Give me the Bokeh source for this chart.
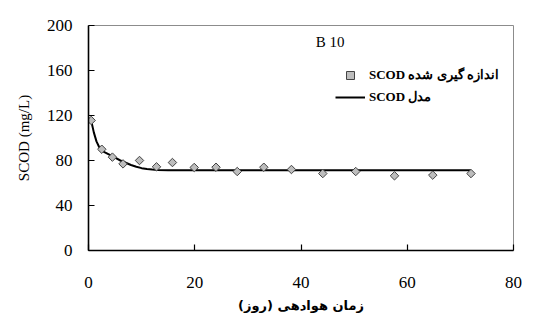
import math
from bokeh.plotting import figure
from bokeh.models import Label, Legend, LegendItem, FixedTicker, Range1d
from bokeh.embed import file_html
from bokeh.resources import INLINE

# ---- data ----
days_meas = [0.5, 2.5, 4.5, 6.5, 9.6, 12.8, 15.8, 19.9, 24, 28, 33, 38.2, 44.1, 50.3, 57.6, 64.8, 72]
scod_meas = [115.6, 90, 83, 77, 80, 74.4, 78.2, 73.8, 74, 70.2, 74, 72, 68.4, 70.2, 66.4, 67, 68.4]

days_model = [0.5, 1, 1.5, 2, 2.5, 3, 4, 5, 6, 7, 8, 9, 10, 11, 12, 13, 15, 20, 72]
scod_model = [115.6, 105, 97, 92, 89, 87.5, 85, 82.5, 80, 78, 76, 74.5, 73.2, 72.5, 72, 71.6, 71.4, 71.4, 71.4]

x_ticks = [0, 20, 40, 60, 80]
y_ticks = [0, 40, 80, 120, 160, 200]

title_text = "B 10"
legend_meas = "SCOD اندازه گیری شده"
legend_model = "SCOD مدل"
x_label = "\u200fزمان هوادهی (روز)\u200f"
y_label = "SCOD (mg/L)"

SERIF = "Liberation Serif"
PERSIAN = "DejaVu Sans"

p = figure(width=536, height=326, output_backend="svg", toolbar_location=None,
           x_range=Range1d(0, 80), y_range=Range1d(0, 200),
           min_border_left=88, min_border_right=23, min_border_top=25, min_border_bottom=76)

p.grid.visible = False
p.outline_line_color = "#8c8c8c"
p.outline_line_width = 1
p.background_fill_color = "white"
p.border_fill_color = "white"

# axes
p.axis.axis_line_color = "black"
p.axis.axis_line_width = 1.6
p.axis.major_tick_line_color = "black"
p.axis.major_tick_line_width = 1.2
p.axis.major_tick_in = 6
p.axis.major_tick_out = 0
p.axis.minor_tick_line_color = None
p.axis.major_label_text_color = "black"
p.axis.major_label_text_font = SERIF
p.axis.major_label_text_font_style = "normal"
p.axis.major_label_text_font_size = "17px"

p.xaxis.ticker = FixedTicker(ticks=x_ticks)
p.yaxis.ticker = FixedTicker(ticks=y_ticks)
p.xaxis.major_label_standoff = 26
p.yaxis.major_label_standoff = 16

p.xaxis.axis_label = x_label
p.xaxis.axis_label_text_font = PERSIAN
p.xaxis.axis_label_text_font_style = "bold"
p.xaxis.axis_label_text_font_size = "13px"
p.xaxis.axis_label_standoff = 7
p.xaxis.axis_label_text_color = "black"

p.yaxis.axis_label = y_label
p.yaxis.axis_label_text_font = SERIF
p.yaxis.axis_label_text_font_style = "normal"
p.yaxis.axis_label_text_font_size = "15px"
p.yaxis.axis_label_standoff = 12
p.yaxis.axis_label_text_color = "black"

# glyphs
line_r = p.line(days_model, scod_model, line_color="black", line_width=2)
pts_r = p.scatter(days_meas, scod_meas, marker="square", angle=math.pi / 4, size=6,
                  fill_color="#bdbdbd", line_color="#444444", line_width=1)

legend = Legend(items=[LegendItem(label=legend_meas, renderers=[pts_r]),
                       LegendItem(label=legend_model, renderers=[line_r])],
                location=(247, 143), orientation="vertical",
                label_text_font="serif", label_text_font_style="bold",
                label_text_font_size="13px", label_text_color="black",
                glyph_width=30, glyph_height=20, label_height=20,
                label_standoff=4, spacing=2, padding=0, margin=0,
                border_line_color=None, background_fill_alpha=0)
p.add_layout(legend)

# title inside plot
p.add_layout(Label(x=45.5, y=185, text=title_text, text_font=SERIF,
                   text_font_size="15px", text_align="center", text_baseline="middle",
                   text_color="black"))

open("out.html", "w").write(file_html(p, INLINE))
